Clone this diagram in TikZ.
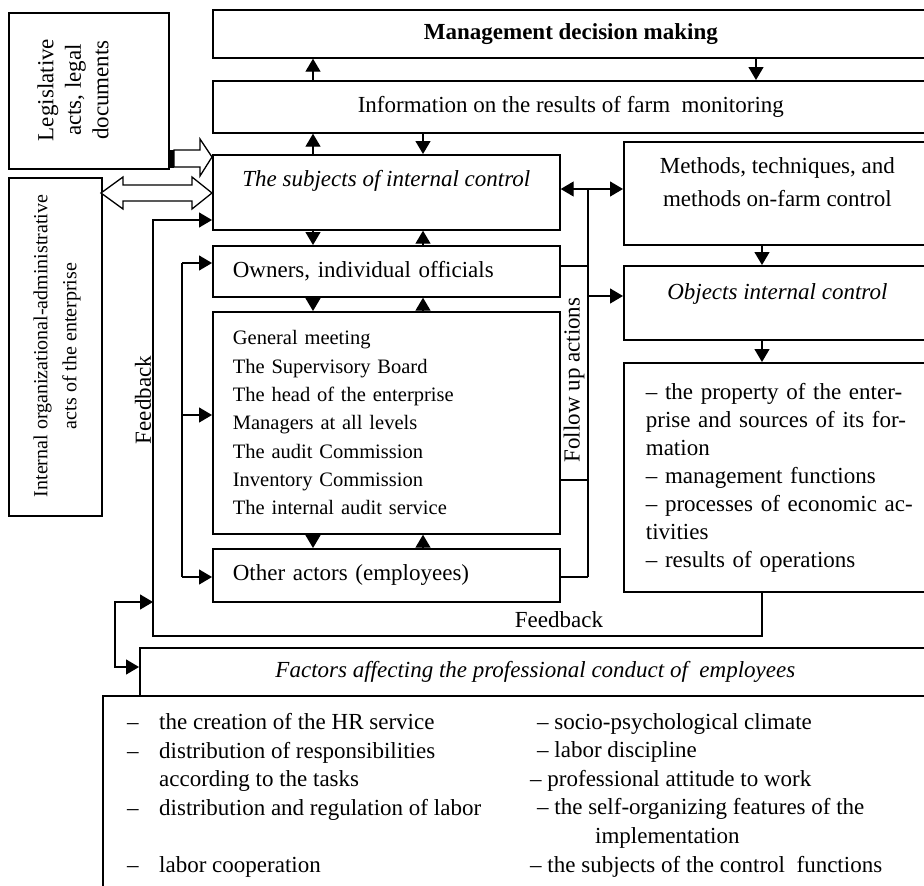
\documentclass[tikz,border=0pt]{standalone}
\usepackage{fontspec}
\setmainfont{Liberation Serif}
\usetikzlibrary{positioning,arrows.meta}

\begin{document}
\begin{tikzpicture}[x=1pt, y=-1pt,
box/.style={draw, line width=1.7pt, inner sep=0pt, anchor=north west, font=\fontsize{23}{28}\selectfont},
txt/.style={inner sep=0pt, font=\fontsize{23}{28}\selectfont},
arrow/.style={-{Triangle[length=13pt,width=15pt]}, line width=1.3pt},
dblarrow/.style={{Triangle[length=13pt,width=15pt]}-{Triangle[length=13pt,width=15pt]}, line width=1.3pt},
hollow/.style={draw, line width=1.3pt, fill=white, line join=miter}
]
\fill[white] (0,0) rectangle (924,886);
\useasboundingbox (0,0) rectangle (924,886);
\clip (0,0) rectangle (924,886);

% documents on the left
\node[box, minimum width=160, minimum height=156] (leg) at (8,12) {};
\node[txt, rotate=90, align=center, font=\fontsize{23}{27.5}\selectfont] (legtxt) at (73,90) {Legislative\\acts, legal\\documents};
\node[box, minimum width=93, minimum height=338] (intern) at (8,177) {};
\node[txt, rotate=90, align=center, font=\fontsize{20}{29}\selectfont] (interntxt) at (57,346) {Internal organizational-administrative\\acts of the enterprise};

% top row
\node[box, minimum width=716, minimum height=48, font=\fontsize{23}{28}\selectfont\bfseries] (mdm) at (212,9) {Management decision making};
\node[box, minimum width=716, minimum height=52] (info) at (212,80) {Information on the results of farm\ \ monitoring};

% subjects column
\node[box, minimum width=347, minimum height=75] (subj) at (212,154) {};
\node[txt, below=16pt of subj.north, font=\fontsize{23}{28}\selectfont\itshape] (subjtxt) {The subjects of internal control};
\node[box, minimum width=347, minimum height=51, text width=307, inner xsep=20pt, align=left] (owners) at (212,245) {Owners, individual officials};
\node[box, minimum width=347, minimum height=222, text width=307, inner xsep=20pt, align=left, font=\fontsize{20.5}{28.3}\selectfont] (bodies) at (212,311) {General meeting\\The Supervisory Board\\The head of the enterprise\\Managers at all levels\\The audit Commission\\Inventory Commission\\The internal audit service};
\node[box, minimum width=347, minimum height=53, text width=307, inner xsep=20pt, align=left] (others) at (212,548) {Other actors (employees)};

% right column
\node[box, minimum width=307, minimum height=103] (meth) at (623,141) {};
\node[txt, align=center, font=\fontsize{23}{33}\selectfont, below=16pt of meth.north] (methtxt) {Methods, techniques, and\\methods on-farm control};
\node[box, minimum width=307, minimum height=74] (obj) at (623,265) {};
\node[txt, below=18pt of obj.north, font=\fontsize{23}{28}\selectfont\itshape] (objtxt) {Objects internal control};
\node[box, minimum width=307, minimum height=229, text width=280, inner xsep=22pt, align=left] (objlist) at (623,362) {– the property of the enter-\\prise and sources of its for-\\mation\\– management functions\\– processes of economic ac-\\tivities\\– results of operations};

% bottom
\node[box, minimum width=791, minimum height=48, font=\fontsize{23}{28}\selectfont\itshape] (fact) at (139,647) {Factors affecting the professional conduct of\ \ employees};
\node[box, minimum width=830, minimum height=220] (botlist) at (102,695) {};
\node[txt, anchor=north west, align=left, font=\fontsize{23}{28.6}\selectfont] (botleft) at (127,713) {\makebox[32pt][l]{–}the creation of the HR service\\\makebox[32pt][l]{–}distribution of responsibilities\\\hspace*{32pt}according to the tasks\\\makebox[32pt][l]{–}distribution and regulation of labor\\\mbox{}\\\makebox[32pt][l]{–}labor cooperation};
\node[txt, anchor=north west, align=left, font=\fontsize{23}{28.6}\selectfont] (botright) at (530,713) {\hspace*{7pt}– socio-psychological climate\\\hspace*{7pt}– labor discipline\\– professional attitude to work\\\hspace*{7pt}– the self-organizing features of the\\\hspace*{65pt}implementation\\– the subjects of the control\ \ functions};

% helper points
\coordinate (cA) at (313,0);
\coordinate (cB) at (423,0);
\coordinate (cC) at (756,0);
\coordinate (cD) at (762,0);

% vertical links
\draw[arrow] (info.north -| cA) -- (mdm.south -| cA);
\draw[arrow] (mdm.south -| cC) -- (info.north -| cC);
\draw[arrow] (subj.north -| cA) -- (info.south -| cA);
\draw[arrow] (info.south -| cB) -- (subj.north -| cB);
\foreach \a/\b in {subj/owners, owners/bodies, bodies/others} {
  \draw[arrow] (\a.south -| cA) -- (\b.north -| cA);
  \draw[arrow] (\b.north -| cB) -- (\a.south -| cB);
}
\draw[arrow] (meth.south -| cD) -- (obj.north -| cD);
\draw[arrow] (obj.south -| cD) -- (objlist.north -| cD);

% follow up actions
\coordinate (busT) at (588,189);
\coordinate (busB) at (588,577);
\coordinate (fu1) at (588,266);
\coordinate (fu2) at (588,480);
\coordinate (fuO) at (588,296);
\draw[line width=2.6pt] (busT) -- (busB);
\draw[arrow] (busT) -- (subj.east |- busT);
\draw[arrow] (busT) -- (meth.west |- busT);
\draw[arrow] (fuO) -- (obj.west |- fuO);
\draw[line width=1.3pt] (owners.east |- fu1) -- (fu1);
\draw[line width=1.3pt] (bodies.east |- fu2) -- (fu2);
\draw[line width=1.3pt] (others.east |- busB) -- (busB);
\node[txt, rotate=90] (follow) at (574,380) {Follow up actions};

% inner loop
\coordinate (il1) at (182,263);
\coordinate (il2) at (182,415);
\coordinate (il3) at (182,577);
\draw[line width=1.3pt] (il1) -- (il3);
\draw[arrow] (il1) -- (owners.west |- il1);
\draw[arrow] (il2) -- (bodies.west |- il2);
\draw[arrow] (il3) -- (others.west |- il3);

% feedback
\coordinate (fbT) at (153,220);
\coordinate (fbB) at (153,636);
\draw[arrow] (objlist.south -| cD) -- (cD |- fbB) -- (fbB) -- (fbT) -- (subj.west |- fbT);
\node[txt, rotate=90] (fbleft) at (143,400) {Feedback};
\node[txt] (fbbottom) at (559,620) {Feedback};
\coordinate (fl1) at (115,602);
\coordinate (fl2) at (115,667);
\draw[dblarrow] (fbB |- fl1) -- (fl1) -- (fl2) -- (fact.west |- fl2);

% block arrows
\fill (168,150) rectangle (174,168);
\draw[hollow] (174,150) -- (200,150) -- (200,139) -- (212,157) -- (200,176) -- (200,167) -- (174,167) -- cycle;
\draw[hollow] (101,193) -- (123,177) -- (123,185) -- (192,185) -- (192,177) -- (212,193) -- (192,209) -- (192,201) -- (123,201) -- (123,209) -- cycle;
\end{tikzpicture}
\end{document}
